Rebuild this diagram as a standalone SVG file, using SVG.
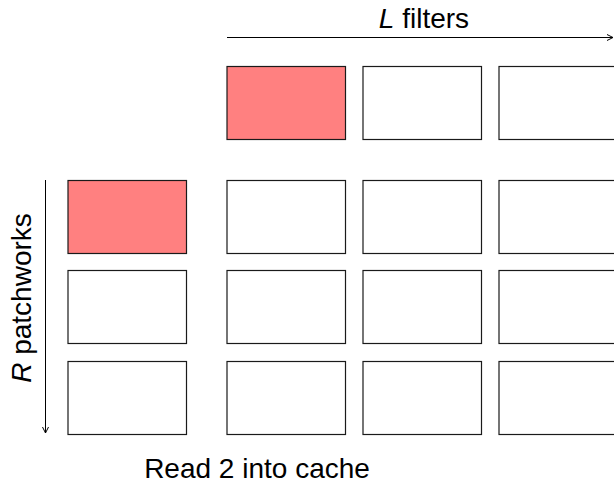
<svg xmlns="http://www.w3.org/2000/svg" width="614" height="485" viewBox="0 0 614 485">
  <style>
    .cell { fill: #ffffff; stroke: #1a1a1a; stroke-width: 1.2; }
    .hot { fill: #ff8080; }
    .axis { stroke: #000000; stroke-width: 1; fill: none; }
    .label { font-family: "Liberation Sans", Arial, sans-serif; font-size: 28px; fill: #000000; }
  </style>
  <defs>
    <marker id="tip" viewBox="0 0 8 8" refX="7" refY="4" markerWidth="8" markerHeight="8" markerUnits="userSpaceOnUse" orient="auto">
      <path d="M1,1 L7,4 L1,7" fill="none" stroke="#000" stroke-width="1"/>
    </marker>
  </defs>

  <g id="connectors">
    <line class="axis" x1="227" y1="37.5" x2="613" y2="37.5" marker-end="url(#tip)"/>
    <line class="axis" x1="45.5" y1="180" x2="45.5" y2="433" marker-end="url(#tip)"/>
  </g>

  <g id="filters">
    <rect id="filter-1" class="cell hot" x="227" y="66.5" width="118.5" height="73"/>
    <rect id="filter-2" class="cell" x="363" y="66.5" width="118.5" height="73"/>
    <rect id="filter-3" class="cell" x="499" y="66.5" width="118.5" height="73"/>
  </g>

  <g id="patchworks">
    <rect id="patch-1" class="cell hot" x="68" y="180.5" width="118.5" height="73"/>
    <rect id="patch-2" class="cell" x="68" y="270.5" width="118.5" height="73"/>
    <rect id="patch-3" class="cell" x="68" y="361.5" width="118.5" height="73"/>
  </g>

  <g id="grid">
    <rect class="cell" x="227" y="180.5" width="118.5" height="73"/>
    <rect class="cell" x="363" y="180.5" width="118.5" height="73"/>
    <rect class="cell" x="499" y="180.5" width="118.5" height="73"/>
    <rect class="cell" x="227" y="270.5" width="118.5" height="73"/>
    <rect class="cell" x="363" y="270.5" width="118.5" height="73"/>
    <rect class="cell" x="499" y="270.5" width="118.5" height="73"/>
    <rect class="cell" x="227" y="361.5" width="118.5" height="73"/>
    <rect class="cell" x="363" y="361.5" width="118.5" height="73"/>
    <rect class="cell" x="499" y="361.5" width="118.5" height="73"/>
  </g>

  <text class="label" x="424" y="28" text-anchor="middle"><tspan font-style="italic">L</tspan> filters</text>
  <text class="label" x="0" y="0" text-anchor="middle" transform="translate(31,298) rotate(-90)"><tspan font-style="italic">R</tspan> patchworks</text>
  <text class="label" x="257" y="478" text-anchor="middle">Read 2 into cache</text>
</svg>
